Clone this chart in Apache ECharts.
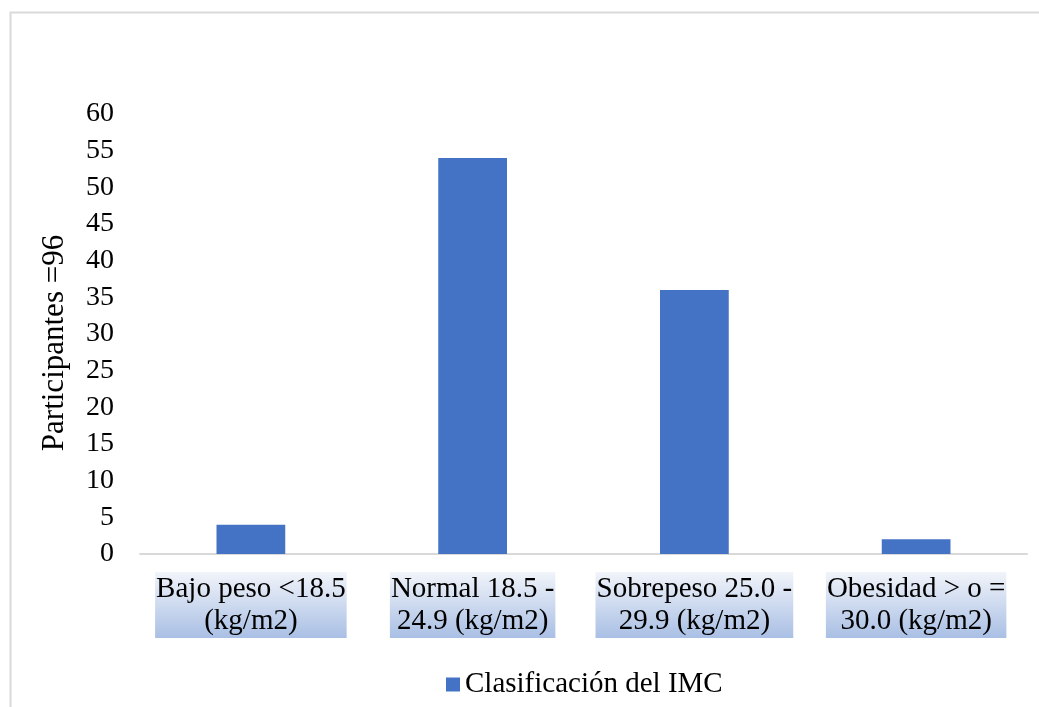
<!DOCTYPE html>
<html>
<head>
<meta charset="utf-8">
<script src="https://cdn.jsdelivr.net/npm/echarts@6/dist/echarts.min.js"></script>
<style>
  html, body { margin: 0; padding: 0; background: #fff; overflow: hidden; }
  #chart { width: 1039px; height: 707px; }
</style>
</head>
<body>
<div id="chart"></div>
<script>
// datos del grafico
var categories = ['Bajo peso <18.5\n(kg/m2)', 'Normal 18.5 -\n24.9 (kg/m2)', 'Sobrepeso 25.0 -\n29.9 (kg/m2)', 'Obesidad > o =\n30.0 (kg/m2)'];
var values = [4, 54, 36, 2];
var seriesName = 'Clasificación del IMC';
var yName = 'Participantes =96';
var yMin = 0, yMax = 60, yStep = 5;

var font = '"Liberation Serif", "Times New Roman", serif';
var chart = echarts.init(document.getElementById('chart'));

var opt = {
    animation: false,
    backgroundColor: '#fff',
    // marco gris del grafico
    graphic: [{
        type: 'rect',
        left: 8, top: 10,
        shape: {width: 1100, height: 800},
        style: {fill: 'none', stroke: '#d9d9d9', lineWidth: 2},
        silent: true
    }],
    grid: {left: 140, right: 12, top: 114, bottom: 153},
    legend: {
        data: [seriesName],
        left: 441, top: 665,
        itemWidth: 14, itemHeight: 14,
        itemGap: 6,
        icon: 'rect',
        textStyle: {fontFamily: font, fontSize: 29, color: '#000'}
    },
    xAxis: {
        type: 'category',
        data: categories,
        axisLine: {lineStyle: {color: '#d9d9d9', width: 2}},
        axisTick: {show: false},
        axisLabel: {
            margin: 18,
            interval: 0,
            fontFamily: font,
            fontSize: 29,
            lineHeight: 32,
            color: '#000',
            padding: [1, 1, 1, 1],
            backgroundColor: new echarts.graphic.LinearGradient(0, 0, 0, 1, [
                {offset: 0, color: '#f1f4fa'},
                {offset: 1, color: '#a9bfe4'}
            ])
        }
    },
    yAxis: {
        type: 'value',
        min: yMin, max: yMax, interval: yStep,
        name: yName,
        nameLocation: 'middle',
        nameGap: 70,
        nameTextStyle: {fontFamily: font, fontSize: 31, color: '#000', padding: [0, 18, 0, 0]},
        axisLine: {show: false},
        axisTick: {show: false},
        splitLine: {show: false},
        axisLabel: {margin: 26, fontFamily: font, fontSize: 28, color: '#000'}
    },
    series: [{
        name: seriesName,
        type: 'bar',
        data: values,
        barWidth: '31%',
        itemStyle: {color: '#4472c4'}
    }]
};
chart.setOption(opt);
</script>
</body>
</html>
